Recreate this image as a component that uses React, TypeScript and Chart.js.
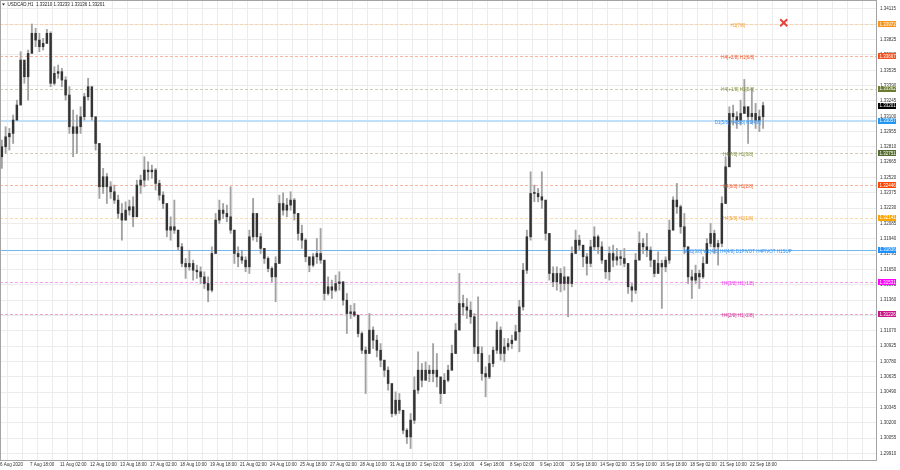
import React, { useEffect, useRef } from 'react';
import { Chart, registerables } from 'chart.js';

Chart.register(...registerables);

// H4 candles built from the H1 chart (bar index unit = one H1 bar)
const highs = [
  1.32875, 1.33001, 1.32985, 1.33112, 1.33253, 1.33711, 1.33601, 1.33727, 1.33973, 1.33932,
  1.33885, 1.33837, 1.33922, 1.33900, 1.33569, 1.33585, 1.33553, 1.33474, 1.33380, 1.33159,
  1.33112, 1.33190, 1.33317, 1.33459, 1.33348, 1.33064, 1.32843, 1.32607, 1.32559, 1.32481,
  1.32449, 1.32354, 1.32275, 1.32291, 1.32307, 1.32339, 1.32496, 1.32544, 1.32717, 1.32670,
  1.32638, 1.32607, 1.32496, 1.32386, 1.32244, 1.32149, 1.32307, 1.32023, 1.31897, 1.31755,
  1.31834, 1.31739, 1.31692, 1.31676, 1.31629, 1.31581, 1.31865, 1.32181, 1.32307, 1.32275,
  1.32260, 1.32433, 1.32023, 1.31865, 1.31834, 1.31771, 1.32023, 1.32323, 1.32118, 1.31992,
  1.31850, 1.31771, 1.31676, 1.31771, 1.32354, 1.32376, 1.32323, 1.32386, 1.32323, 1.32181,
  1.32070, 1.31944, 1.31755, 1.31802, 1.31944, 1.32039, 1.31708, 1.31581, 1.31550, 1.31597,
  1.31629, 1.31534, 1.31424, 1.31313, 1.31329, 1.31203, 1.31061, 1.30919, 1.31234, 1.31108,
  1.31029, 1.30950, 1.30793, 1.30730, 1.30540, 1.30493, 1.30477, 1.30319, 1.30146, 1.30288,
  1.30635, 1.30872, 1.30761, 1.30777, 1.30745, 1.30950, 1.30856, 1.30603, 1.30666, 1.30745,
  1.30935, 1.31140, 1.31613, 1.31408, 1.31376, 1.31345, 1.31234, 1.31392, 1.30919, 1.30730,
  1.30840, 1.30919, 1.31154, 1.31108, 1.30998, 1.30998, 1.31029, 1.31124, 1.31360, 1.31708,
  1.32023, 1.32575, 1.32449, 1.32417, 1.32575, 1.32307, 1.31992, 1.31676, 1.31676, 1.31660,
  1.31676, 1.31581, 1.31865, 1.32023, 1.31976, 1.31865, 1.31802, 1.31928, 1.32055, 1.31976,
  1.31913, 1.31739, 1.31865, 1.31881, 1.31850, 1.31834, 1.31850, 1.31708, 1.31518, 1.31802,
  1.32007, 1.31944, 1.31992, 1.31865, 1.31739, 1.31818, 1.31739, 1.31771, 1.32118, 1.32339,
  1.32465, 1.32260, 1.32181, 1.31865, 1.31644, 1.31692, 1.31644, 1.31771, 1.31944, 1.32086,
  1.32023, 1.31928, 1.32339, 1.32717, 1.33190, 1.33206, 1.33143, 1.33253, 1.33449, 1.33190,
  1.33364, 1.33222, 1.33159, 1.33233,
];

const lows = [
  1.32607, 1.32749, 1.32780, 1.32843, 1.33064, 1.33222, 1.33412, 1.33253, 1.33727, 1.33758,
  1.33711, 1.33727, 1.33790, 1.33380, 1.33395, 1.33459, 1.33380, 1.33253, 1.32938, 1.32717,
  1.32749, 1.32938, 1.33064, 1.33253, 1.33064, 1.32780, 1.32323, 1.32370, 1.32275, 1.32323,
  1.32275, 1.32134, 1.31928, 1.32118, 1.32165, 1.32055, 1.32275, 1.32370, 1.32433, 1.32496,
  1.32512, 1.32402, 1.32307, 1.32228, 1.31960, 1.31928, 1.31992, 1.31834, 1.31676, 1.31566,
  1.31644, 1.31550, 1.31566, 1.31518, 1.31471, 1.31345, 1.31439, 1.31802, 1.32086, 1.32134,
  1.32102, 1.31992, 1.31708, 1.31676, 1.31708, 1.31629, 1.31613, 1.31928, 1.31913, 1.31802,
  1.31708, 1.31629, 1.31534, 1.31345, 1.31708, 1.32165, 1.32149, 1.32212, 1.32118, 1.31928,
  1.31850, 1.31723, 1.31629, 1.31676, 1.31708, 1.31708, 1.31360, 1.31408, 1.31376, 1.31439,
  1.31455, 1.31313, 1.31045, 1.31187, 1.31203, 1.31013, 1.30856, 1.30477, 1.30887, 1.30903,
  1.30824, 1.30730, 1.30635, 1.30509, 1.30256, 1.30272, 1.30288, 1.30098, 1.30004, 1.29957,
  1.30193, 1.30477, 1.30540, 1.30603, 1.30588, 1.30588, 1.30540, 1.30382, 1.30477, 1.30588,
  1.30698, 1.30856, 1.31140, 1.31219, 1.31187, 1.31140, 1.30856, 1.30777, 1.30603, 1.30446,
  1.30619, 1.30730, 1.30856, 1.30793, 1.30777, 1.30887, 1.30903, 1.30982, 1.30872, 1.31266,
  1.31613, 1.31928, 1.32291, 1.32291, 1.32228, 1.31928, 1.31550, 1.31487, 1.31455, 1.31439,
  1.31455, 1.31203, 1.31487, 1.31850, 1.31834, 1.31676, 1.31597, 1.31676, 1.31834, 1.31802,
  1.31708, 1.31566, 1.31550, 1.31676, 1.31692, 1.31692, 1.31676, 1.31424, 1.31345, 1.31424,
  1.31771, 1.31802, 1.31771, 1.31676, 1.31581, 1.31629, 1.31282, 1.31629, 1.31708, 1.32023,
  1.32181, 1.31992, 1.31802, 1.31518, 1.31376, 1.31518, 1.31471, 1.31566, 1.31708, 1.31865,
  1.31802, 1.31692, 1.31865, 1.32275, 1.32622, 1.33017, 1.32985, 1.33017, 1.33127, 1.32843,
  1.33033, 1.32985, 1.32954, 1.32985,
];

const closes = [
  1.32812, 1.32906, 1.32938, 1.33064, 1.33206, 1.33632, 1.33474, 1.33695, 1.33885, 1.33821,
  1.33758, 1.33790, 1.33885, 1.33412, 1.33506, 1.33522, 1.33443, 1.33301, 1.33001, 1.32938,
  1.33001, 1.33096, 1.33285, 1.33380, 1.33096, 1.32843, 1.32433, 1.32528, 1.32433, 1.32386,
  1.32307, 1.32181, 1.32118, 1.32212, 1.32244, 1.32149, 1.32449, 1.32496, 1.32591, 1.32575,
  1.32591, 1.32465, 1.32354, 1.32275, 1.32023, 1.32055, 1.32023, 1.31865, 1.31708, 1.31676,
  1.31708, 1.31644, 1.31629, 1.31581, 1.31518, 1.31455, 1.31802, 1.32118, 1.32212, 1.32181,
  1.32149, 1.32023, 1.31802, 1.31771, 1.31739, 1.31676, 1.31960, 1.32181, 1.31960, 1.31850,
  1.31755, 1.31660, 1.31581, 1.31708, 1.32275, 1.32212, 1.32260, 1.32307, 1.32181, 1.31992,
  1.31928, 1.31771, 1.31692, 1.31771, 1.31802, 1.31739, 1.31424, 1.31487, 1.31455, 1.31518,
  1.31534, 1.31360, 1.31234, 1.31250, 1.31219, 1.31045, 1.30887, 1.30856, 1.31077, 1.30982,
  1.30887, 1.30793, 1.30698, 1.30572, 1.30288, 1.30414, 1.30319, 1.30130, 1.30067, 1.30225,
  1.30509, 1.30698, 1.30603, 1.30698, 1.30666, 1.30698, 1.30635, 1.30477, 1.30603, 1.30698,
  1.30856, 1.31077, 1.31329, 1.31297, 1.31266, 1.31203, 1.30919, 1.30856, 1.30666, 1.30635,
  1.30761, 1.30887, 1.31077, 1.30856, 1.30919, 1.30950, 1.30982, 1.31061, 1.31297, 1.31644,
  1.31960, 1.32370, 1.32370, 1.32339, 1.32307, 1.31992, 1.31613, 1.31534, 1.31613, 1.31518,
  1.31581, 1.31518, 1.31802, 1.31928, 1.31881, 1.31771, 1.31708, 1.31865, 1.31960, 1.31865,
  1.31739, 1.31629, 1.31802, 1.31739, 1.31771, 1.31755, 1.31708, 1.31487, 1.31455, 1.31739,
  1.31897, 1.31865, 1.31834, 1.31739, 1.31613, 1.31708, 1.31676, 1.31739, 1.32023, 1.32307,
  1.32244, 1.32055, 1.31865, 1.31581, 1.31550, 1.31613, 1.31581, 1.31708, 1.31897, 1.31992,
  1.31865, 1.31897, 1.32275, 1.32622, 1.33127, 1.33096, 1.33064, 1.33127, 1.33190, 1.33096,
  1.33127, 1.33064, 1.33096, 1.33201,
];

const firstOpen = 1.32717;

const yTicks = [
  1.34115, 1.33970, 1.33825, 1.33680, 1.33535, 1.33390, 1.33245, 1.33100, 1.32955, 1.32810,
  1.32665, 1.32520, 1.32375, 1.32230, 1.32085, 1.31940, 1.31795, 1.31650, 1.31505, 1.31360,
  1.31215, 1.31070, 1.30925, 1.30780, 1.30635, 1.30490, 1.30345, 1.30200, 1.30055, 1.29910,
];

const xLabels = [
  '6 Aug 2020', '7 Aug 18:00', '11 Aug 02:00', '12 Aug 10:00', '13 Aug 18:00', '17 Aug 02:00',
  '18 Aug 10:00', '19 Aug 18:00', '21 Aug 02:00', '24 Aug 10:00', '25 Aug 18:00', '27 Aug 02:00',
  '28 Aug 10:00', '31 Aug 18:00', '2 Sep 02:00', '3 Sep 10:00', '4 Sep 18:00', '8 Sep 02:00',
  '9 Sep 10:00', '10 Sep 18:00', '14 Sep 02:00', '15 Sep 10:00', '16 Sep 18:00', '18 Sep 02:00',
  '21 Sep 10:00', '22 Sep 18:00',
];

const levelValues = [1.33972, 1.33667, 1.33362, 1.33057, 1.32751, 1.32446, 1.32141, 1.31836, 1.31531, 1.31226];
const levelLabels = [
  'H1[7/8]',
  'H4[+2/8] H1[6/8]',
  'H4[+1/8] H1[5/8]',
  'D1[5/8] H4[8/8] H1[4/8]',
  'H4[7/8] H1[3/8]',
  'H4[6/8] H1[2/8]',
  'H4[5/8] H1[1/8]',
  'MN1[3/8] W1[4/8] H4[4/8] D1PIVOT H4PIVOT H1SUP',
  'H4[3/8] H1[-1/8]',
  'H4[2/8] H1[-2/8]',
];
const levelLineColors = ['#fad3aa', '#f7b4a0', '#cfcdb4', '#bfe0f8', '#d2cdb8', '#f7b4a0', '#f9dcae', '#72b8f3', '#f6a0f2', '#eca4cf'];
const levelTextColors = ['#f39a2a', '#f0582a', '#7d8f3a', '#2f8ff0', '#7d8f3a', '#f0582a', '#f39a2a', '#2f8ff0', '#f030f0', '#d02890'];
const levelTagColors = ['#f7941d', '#f4511e', '#6b7b32', '#2196f3', '#556b2f', '#ff4500', '#ffa500', '#1e90ff', '#ff00ff', '#c71585'];
const levelSolid = [false, false, false, true, false, false, false, true, false, false];
const levelWidths = [1, 1, 1, 2, 1, 1, 1, 1, 1, 1];

const currentPrice = 1.33201;
const titleText = 'USDCAD,H1  1.33210 1.33233 1.33136 1.33201';
const markerBar = 836;
const markerPrice = 1.33985;
const labelAnchorBar = 787;

const BARS_PER_CANDLE = 4;
const X_MAX = 935.5;
const Y_MIN = 1.29839;
const Y_MAX = 1.342;
const FONT = '"Liberation Sans", "DejaVu Sans", sans-serif';
const FS = 4.5;

const overlay = {
  id: 'mtOverlay',
  beforeDatasetsDraw(chart: any) {
    const { ctx, chartArea: a, scales } = chart;
    const y = scales.y;
    ctx.save();
    ctx.beginPath();
    ctx.rect(a.left, a.top, a.right - a.left, a.bottom - a.top);
    ctx.clip();
    levelValues.forEach((v, k) => {
      const raw = y.getPixelForValue(v);
      const py = levelWidths[k] === 2 ? Math.round(raw) : Math.round(raw) + 0.5;
      ctx.strokeStyle = levelLineColors[k];
      ctx.lineWidth = levelWidths[k];
      ctx.setLineDash(levelSolid[k] ? [] : [3, 2]);
      ctx.beginPath();
      ctx.moveTo(a.left, py);
      ctx.lineTo(a.right, py);
      ctx.stroke();
    });
    ctx.restore();
  },
  afterDatasetsDraw(chart: any) {
    const { ctx, chartArea: a, scales } = chart;
    const x = scales.x;
    const y = scales.y;
    ctx.save();
    ctx.font = `${FS}px ${FONT}`;
    ctx.textAlign = 'center';
    ctx.textBaseline = 'middle';
    const lx = x.getPixelForValue(labelAnchorBar);
    levelLabels.forEach((t, k) => {
      ctx.fillStyle = levelTextColors[k];
      ctx.fillText(t, lx, y.getPixelForValue(levelValues[k]) + 1.5);
    });
    // red cross marker
    const mx = x.getPixelForValue(markerBar);
    const my = y.getPixelForValue(markerPrice);
    ctx.strokeStyle = '#e8413b';
    ctx.lineWidth = 2;
    ctx.beginPath();
    ctx.moveTo(mx - 3.5, my - 3.5);
    ctx.lineTo(mx + 3.5, my + 3.5);
    ctx.moveTo(mx + 3.5, my - 3.5);
    ctx.lineTo(mx - 3.5, my + 3.5);
    ctx.stroke();
    // frame
    ctx.strokeStyle = '#a4a4a4';
    ctx.lineWidth = 1;
    ctx.strokeRect(a.left + 0.5, a.top + 0.5, a.right - a.left - 1, a.bottom - a.top - 1);
    ctx.restore();
  },
  afterDraw(chart: any) {
    const { ctx, chartArea: a, scales } = chart;
    const y = scales.y;
    ctx.save();
    ctx.font = `${FS}px ${FONT}`;
    ctx.textBaseline = 'middle';
    ctx.textAlign = 'left';
    const tags = levelValues.map((v, k) => ({ v, c: levelTagColors[k] }));
    tags.push({ v: currentPrice, c: '#000000' });
    tags.forEach(({ v, c }) => {
      const py = y.getPixelForValue(v);
      ctx.fillStyle = c;
      ctx.fillRect(a.right + 1, Math.round(py - 3), 18, 6);
      ctx.fillStyle = '#ffffff';
      ctx.fillText(v.toFixed(5), a.right + 2.5, py + 0.3);
    });
    // title
    ctx.fillStyle = '#222222';
    ctx.beginPath();
    ctx.moveTo(2, 3.5);
    ctx.lineTo(5, 3.5);
    ctx.lineTo(3.5, 5.5);
    ctx.closePath();
    ctx.fill();
    ctx.fillText(titleText, 7.5, 4.8);
    ctx.restore();
  },
};

export default function App() {
  const ref = useRef<HTMLCanvasElement | null>(null);

  useEffect(() => {
    if (!ref.current) return;
    const wickData = highs.map((h, i) => ({ x: i * BARS_PER_CANDLE + BARS_PER_CANDLE / 2, y: [lows[i], h] }));
    const bodyData = closes.map((c, i) => ({
      x: i * BARS_PER_CANDLE + BARS_PER_CANDLE / 2,
      y: [i === 0 ? firstOpen : closes[i - 1], c],
    }));

    const chart = new Chart(ref.current, {
      type: 'bar',
      data: {
        datasets: [
          {
            data: wickData as any,
            backgroundColor: '#a2a2a2',
            barThickness: 1.2,
            grouped: false,
            order: 2,
          } as any,
          {
            data: bodyData as any,
            backgroundColor: '#333333',
            barThickness: 1.8,
            minBarLength: 1,
            grouped: false,
            order: 1,
          } as any,
        ],
      },
      options: {
        animation: false,
        responsive: true,
        maintainAspectRatio: false,
        layout: { padding: { left: 0, top: 0, right: 0, bottom: 0 } },
        plugins: { legend: { display: false }, tooltip: { enabled: false }, title: { display: false } },
        scales: {
          x: {
            type: 'linear',
            min: 0,
            max: X_MAX,
            offset: false,
            grid: { color: '#ececec', drawTicks: false, lineWidth: 1 },
            border: { display: false },
            afterBuildTicks: (axis: any) => {
              const t: any[] = [];
              for (let v = 0; v <= X_MAX; v += 16) t.push({ value: v });
              axis.ticks = t;
            },
            afterFit: (scale: any) => {
              scale.height = 9;
              scale.paddingLeft = 0;
              scale.paddingRight = 0;
            },
            ticks: {
              autoSkip: false,
              maxRotation: 0,
              minRotation: 0,
              align: 'start',
              padding: 1.5,
              color: '#333333',
              font: { size: FS, family: FONT },
              callback: (value: any) => {
                const v = Number(value);
                if (v % 32 !== 0) return '';
                return xLabels[v / 32] ?? '';
              },
            },
          },
          y: {
            type: 'linear',
            position: 'right',
            min: Y_MIN,
            max: Y_MAX,
            grid: { color: '#ececec', drawTicks: false, lineWidth: 1 },
            border: { display: false },
            afterBuildTicks: (axis: any) => {
              axis.ticks = yTicks.map((v) => ({ value: v }));
            },
            afterFit: (scale: any) => {
              scale.width = 23;
              scale.paddingTop = 0;
              scale.paddingBottom = 0;
            },
            ticks: {
              autoSkip: false,
              padding: 3,
              color: '#333333',
              font: { size: FS, family: FONT },
              callback: (value: any) => Number(value).toFixed(5),
            },
          },
        },
      } as any,
      plugins: [overlay],
    });
    return () => chart.destroy();
  }, []);

  return (
    <div style={{ position: 'fixed', left: 0, top: 0, width: 900, height: 470, background: '#ffffff' }}>
      <canvas ref={ref} />
    </div>
  );
}
